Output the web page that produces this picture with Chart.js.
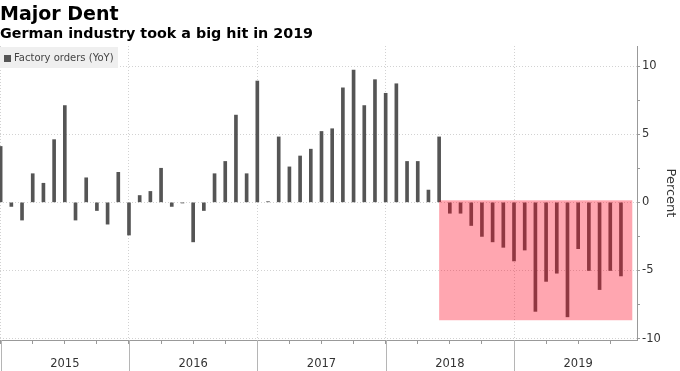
<!DOCTYPE html>
<html>
<head>
<meta charset="utf-8">
<script src="https://cdn.jsdelivr.net/npm/chart.js@4/dist/chart.umd.min.js"></script>
<style>
  body { margin: 0; background: #fff; }
  #wrap { position: relative; width: 680px; height: 371px; }
  #title { position: absolute; left: 0; top: 1px; font: bold 19px "DejaVu Sans"; color: #000; line-height: 24px; }
  #subtitle { position: absolute; left: 0; top: 24px; font: bold 14.3px "DejaVu Sans"; color: #000; line-height: 18px; }
  #legend { position: absolute; left: 0; top: 47px; width: 118px; height: 21px; background: #efefef;
            font: 10px "DejaVu Sans"; color: #444; line-height: 21px; }
  #legend span { display: inline-block; width: 7px; height: 7px; background: #555; margin: 0 3px 0 4px; vertical-align: -0.5px; }
</style>
</head>
<body>
<div id="wrap">
  <canvas id="chart"></canvas>
  <div id="title">Major Dent</div>
  <div id="subtitle">German industry took a big hit in 2019</div>
  <div id="legend"><span></span>Factory orders (YoY)</div>
</div>
<script>
// factory orders YoY %, monthly, Dec 2014 .. Oct 2019 (x = months since Jan 1 2015)
const orderValues = [
  4.1, -0.3, -1.3, 2.1, 1.4, 4.6, 7.1, -1.3, 1.8, -0.6, -1.6, 2.2,
  -2.4, 0.5, 0.8, 2.5, -0.3, -0.05, -2.9, -0.6, 2.1, 3.0, 6.4, 2.1,
  8.9, 0.05, 4.8, 2.6, 3.4, 3.9, 5.2, 5.4, 8.4, 9.7, 7.1, 9.0,
  8.0, 8.7, 3.0, 3.0, 0.9, 4.8, -0.8, -0.8, -1.7, -2.5, -2.9, -3.3,
  -4.3, -3.5, -8.0, -5.8, -5.2, -8.4, -3.4, -5.0, -6.4, -5.0, -5.4
];
const yearLabels = ["2015", "2016", "2017", "2018", "2019"];
const yTicks = [-10, -7.5, -5, -2.5, 0, 2.5, 5, 7.5, 10];
// highlighted slump (x in months, y in percent)
const boxX = [41, 59.06];
const boxY = [0.15, -8.65];

const highlight = {
  id: "highlight",
  afterDatasetsDraw(chart) {
    const { ctx, scales } = chart;
    const x0 = scales.x.getPixelForValue(boxX[0]);
    const x1 = scales.x.getPixelForValue(boxX[1]);
    const y0 = scales.y.getPixelForValue(boxY[0]);
    const y1 = scales.y.getPixelForValue(boxY[1]);
    ctx.save();
    ctx.fillStyle = "rgba(255, 0, 30, 0.35)";
    ctx.fillRect(x0, y0, x1 - x0, y1 - y0);
    ctx.restore();
  },
  afterDraw(chart) {
    // year separators below the axis
    const { ctx, scales, chartArea } = chart;
    ctx.save();
    ctx.strokeStyle = "#b5b5b5";
    ctx.lineWidth = 1;
    for (let v = 0; v <= 48; v += 12) {
      const px = Math.round(scales.x.getPixelForValue(v)) + 0.5;
      ctx.beginPath();
      ctx.moveTo(px, chartArea.bottom);
      ctx.lineTo(px, chart.height);
      ctx.stroke();
    }
    ctx.restore();
  },
};

new Chart(document.getElementById("chart"), {
  type: "bar",
  data: {
    datasets: [
      {
        label: "Factory orders (YoY)",
        data: orderValues.map((v, i) => ({ x: i, y: v })),
        backgroundColor: "#555555",
        barThickness: 3,
      },
    ],
  },
  options: {
    responsive: true,
    maintainAspectRatio: false,
    animation: false,
    layout: { padding: { top: 46, left: 0, right: 0, bottom: 0 } },
    plugins: { legend: { display: false }, tooltip: { enabled: false } },
    scales: {
      x: {
        type: "linear",
        offset: false,
        min: -0.06,
        max: 59.5,
        afterBuildTicks: (scale) => {
          const t = [];
          for (let v = 0; v <= 57; v += 3) t.push({ value: v });
          scale.ticks = t;
        },
        afterFit: (scale) => {
          scale.height = 31;
          scale.paddingLeft = 0;
          scale.paddingRight = 0;
        },
        ticks: {
          autoSkip: false,
          maxRotation: 0,
          padding: 13,
          color: "#333",
          font: { family: "DejaVu Sans", size: 11.5 },
          callback: (v) => (v % 12 === 6 ? yearLabels[(v - 6) / 12] : ""),
        },
        grid: {
          offset: false,
          color: (c) => (c.tick && c.tick.value % 12 === 0 ? "#d2d2d2" : "rgba(0,0,0,0)"),
          tickColor: "#999",
          tickLength: 4,
        },
        border: { color: "#999", dash: [1, 2] },
      },
      y: {
        position: "right",
        min: -10.1,
        max: 11.47,
        afterBuildTicks: (scale) => {
          scale.ticks = yTicks.map((v) => ({ value: v }));
        },
        afterFit: (scale) => { scale.width = 43; },
        ticks: {
          padding: 2,
          color: "#333",
          font: { family: "DejaVu Sans", size: 11.5 },
          callback: (v) => (v % 5 === 0 ? String(v) : ""),
        },
        grid: {
          color: (c) => (c.tick && c.tick.value % 5 === 0 ? "#d2d2d2" : "rgba(0,0,0,0)"),
          tickColor: "#999",
          tickLength: 3,
        },
        border: { color: "#999", dash: [1, 2] },
        title: {
          display: true,
          text: "Percent",
          color: "#333",
          font: { family: "DejaVu Sans", size: 13 },
          padding: 2,
        },
      },
    },
  },
  plugins: [highlight],
});
</script>
</body>
</html>
